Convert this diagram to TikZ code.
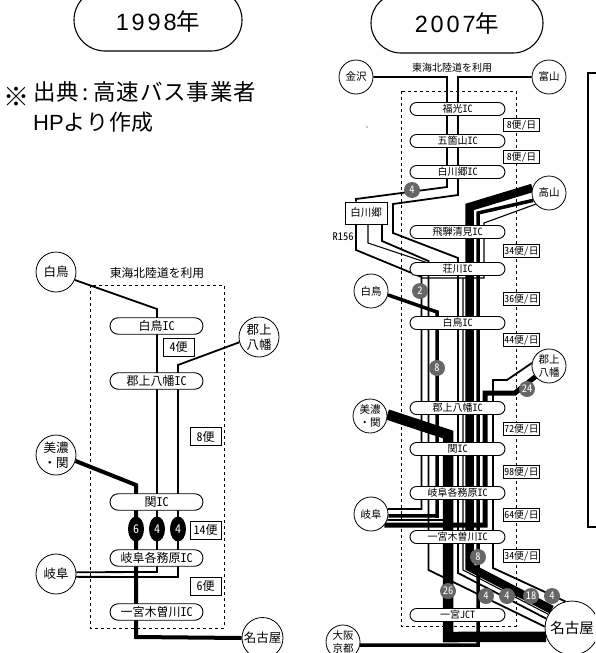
\documentclass[tikz,border=0pt]{standalone}
\usepackage{fontspec}
\setmainfont{Noto Sans CJK JP}[RawFeature=+hwid]
\newfontfamily\bigfont{Noto Sans CJK JP}
\newfontfamily\notefont[LetterSpace=4]{Noto Sans CJK JP}
\newfontfamily\digitfont[LetterSpace=12]{Liberation Sans}
\newfontfamily\hpfont{Liberation Sans}
\usetikzlibrary{shapes.misc,shapes.geometric,calc}
\pgfdeclarelayer{lines}
\pgfsetlayers{lines,main}
\definecolor{badge}{HTML}{666666}
\tikzset{
  yearpill/.style={rounded rectangle,draw,line width=1.1pt,fill=white,inner sep=0pt},
  icA/.style={rounded rectangle,draw,line width=.9pt,fill=white,inner sep=0pt,minimum width=93pt,minimum height=16.5pt,font=\fontsize{12}{12}\selectfont},
  icB/.style={rounded rectangle,draw,line width=.9pt,fill=white,inner sep=0pt,minimum width=95pt,minimum height=13pt,font=\fontsize{10}{10}\selectfont},
  cityA/.style={circle,draw,line width=.8pt,fill=white,inner sep=0pt,minimum size=40pt,align=center,font=\fontsize{12.5}{15}\selectfont},
  cityB/.style={circle,draw,line width=.8pt,fill=white,inner sep=0pt,minimum size=34pt,align=center,font=\fontsize{10.5}{13}\selectfont},
  rateA/.style={rectangle,draw,line width=.7pt,fill=white,inner sep=0pt,minimum width=31pt,minimum height=18pt,font=\fontsize{12}{12}\selectfont},
  rateB/.style={rectangle,draw,line width=.7pt,fill=white,inner sep=0pt,minimum width=36.5pt,minimum height=13pt,font=\fontsize{9.8}{9.8}\selectfont},
  oval/.style={ellipse,fill=black,text=white,inner sep=0pt,minimum width=16pt,minimum height=25pt,font=\fontsize{12}{12}\selectfont},
  dot/.style={circle,fill=badge,text=white,inner sep=0pt,minimum size=16pt,font=\fontsize{10.5}{10.5}\selectfont},
  route/.style={dash pattern=on 3pt off 3pt,line width=.8pt},
  w1/.style={line width=1.1pt},
  w2/.style={line width=1.8pt},
  w3/.style={line width=3.5pt},
  w4/.style={line width=5pt},
  w8/.style={line width=8.5pt},
  w10/.style={line width=10.5pt},
}
\begin{document}
\begin{tikzpicture}[x=1pt,y=-1pt,line join=miter]
\useasboundingbox (0,0) rectangle (595,653);
\clip (0,0) rectangle (595,653);
%
% ---------- headings
\node[yearpill,minimum width=168pt,minimum height=62pt] (y98) at (158,20) {};
\node[yearpill,minimum width=172pt,minimum height=60pt] (y07) at (457,23) {};
\node[inner sep=0pt] (y98t) at (158,22) {\fontsize{23.5}{23.5}\selectfont{\digitfont 1998}\bigfont 年};
\node[inner sep=0pt] (y07t) at (457,24) {\fontsize{23.5}{23.5}\selectfont{\digitfont 2007}\bigfont 年};
\node[inner sep=0pt,font=\fontsize{26}{26}\selectfont\bigfont] (note0) at (16,97) {※};
\node[inner sep=0pt,anchor=west,font=\fontsize{22.5}{22.5}\selectfont\notefont] (note1) at (33,92) {出典\hspace{3pt}:\hspace{5pt}高速バス事業者};
\node[inner sep=0pt,anchor=west,font=\fontsize{22}{22}\selectfont\notefont] (note2) at (33,122) {{\hpfont HP}より作成};
%
% ---------- 1998 nodes
\node[inner sep=0pt,font=\fontsize{11.8}{11.8}\selectfont] (tA) at (157,273) {東海北陸道を利用};
\node[cityA] (aShirotori) at (56,272) {白鳥};
\node[cityA] (aGujo) at (259,337) {郡上\\八幡};
\node[cityA] (aMino) at (56,455) {美濃\\・関};
\node[cityA] (aGifu) at (56,574) {岐阜};
\node[cityA,minimum size=41pt] (aNagoya) at (262.5,638) {名古屋};
\node[icA] (aic1) at (156.5,326) {白鳥IC};
\node[icA] (aic2) at (156.5,381) {郡上八幡IC};
\node[icA] (aic3) at (156.5,502) {関IC};
\node[icA] (aic4) at (156.5,558) {岐阜各務原IC};
\node[icA] (aic5) at (156.5,612) {一宮木曽川IC};
\node[rateA] (ar1) at (178.5,347) {4便};
\node[rateA] (ar2) at (205.5,436.5) {8便};
\node[rateA] (ar3) at (205.5,530) {14便};
\node[rateA] (ar4) at (205.5,586) {6便};
\node[oval] (ao1) at (136,529) {6};
\node[oval] (ao2) at (157,529) {4};
\node[oval] (ao3) at (178,529) {4};
%
% ---------- 2007 nodes
\node[inner sep=0pt,font=\fontsize{10}{10}\selectfont] (tB) at (452,68) {東海北陸道を利用};
\node[cityB] (bKanazawa) at (356,77) {金沢};
\node[cityB] (bToyama) at (549,77) {富山};
\node[cityB] (bTakayama) at (549,193) {高山};
\node[cityB] (bShirotori) at (371,291) {白鳥};
\node[cityB] (bGujo) at (549,366) {郡上\\八幡};
\node[cityB] (bMino) at (370,416) {美濃\\・関};
\node[cityB] (bGifu) at (371,514) {岐阜};
\node[cityB] (bOsaka) at (343,642) {大阪\\京都};
\node[circle,draw,line width=.8pt,fill=white,inner sep=0pt,minimum size=54pt,font=\fontsize{14.5}{14.5}\selectfont] (bNagoya) at (572,628) {名古屋};
\node[rectangle,draw,line width=.7pt,fill=white,inner sep=0pt,minimum width=42pt,minimum height=22pt,font=\fontsize{10.5}{10.5}\selectfont] (bShirakawa) at (366,213) {白川郷};
\node[inner sep=0pt,font=\fontsize{10.5}{10.5}\selectfont] (r156) at (343,237) {R156};
\node[icB] (bic1) at (457.5,109) {福光IC};
\node[icB] (bic2) at (457.5,141) {五箇山IC};
\node[icB] (bic3) at (457.5,172) {白川郷IC};
\node[icB] (bic4) at (457.5,232) {飛騨清見IC};
\node[icB] (bic5) at (457.5,269) {荘川IC};
\node[icB] (bic6) at (457.5,323) {白鳥IC};
\node[icB] (bic7) at (457.5,408) {郡上八幡IC};
\node[icB] (bic8) at (457.5,449) {関IC};
\node[icB] (bic9) at (457.5,493) {岐阜各務原IC};
\node[icB] (bic10) at (457.5,537) {一宮木曽川IC};
\node[icB] (bic11) at (457.5,615) {一宮JCT};
\node[rateB] (br1) at (521.5,125) {8便/日};
\node[rateB] (br2) at (521.5,157) {8便/日};
\node[rateB] (br3) at (521.5,251) {34便/日};
\node[rateB] (br4) at (521.5,299) {36便/日};
\node[rateB] (br5) at (521.5,340) {44便/日};
\node[rateB] (br6) at (521.5,429) {72便/日};
\node[rateB] (br7) at (521.5,472) {98便/日};
\node[rateB] (br8) at (521.5,515) {64便/日};
\node[rateB] (br9) at (521.5,556) {34便/日};
\node[dot] (d4a) at (412,190) {4};
\node[dot] (d2) at (420,291) {2};
\node[dot] (d8a) at (437,368) {8};
\node[dot] (d24) at (527,389) {24};
\node[dot] (d8b) at (478,557) {8};
\node[dot] (d26) at (448,591) {26};
\node[dot] (d4b) at (486,596) {4};
\node[dot] (d4c) at (507,596) {4};
\node[dot] (d18) at (531,596) {18};
\node[dot] (d4d) at (552,596) {4};
\fill (367,127) circle (.6pt);
%
\begin{pgfonlayer}{lines}
% 1998 connectors
\draw[route] (90,285) rectangle (224,628);
\draw[w2] (aShirotori.-23) -- (157,309) -- (157,572) -- (aGifu.5.7);
\draw[w2] (aGujo.195) -- (178,365) -- (178,577) -- (aGifu.-8.6);
\draw[line width=4pt] (aMino.-17) -- (136,485) -- (136,637) -- (aNagoya.west);
% 2007 frames
\draw[route] (401,91) rectangle (516,626);
\draw[line width=1.1pt] (600,73) -| (588,527) -- (600,527);
% from Kanazawa and Toyama
\draw[w2] (bKanazawa.east) -- (447,77) -- (447,187) -- (356,199) -- ($(bShirakawa.north)+(-10,0)$);
\draw[w2] (bToyama.west) -- (458,77) -- (458,195) -- (393,204) -- (393,233) -- (458,258) -- (458,573) -- (bNagoya.160);
% from Shirakawa-go
\draw[w2] ($(bShirakawa.south)+(-10,0)$) -- (356,250) -- (421.5,277) -- (421.5,509) -- (bGifu.17.1);
\draw[w1] ($(bShirakawa.south)+(2,0)$) -- (368,243) -- (428,263);
\draw[w2] ($(bShirakawa.south)+(16,0)$) -- (382,241) -- (428.5,261) -- (428.5,570) -- (bNagoya.177);
% from Takayama
\draw[w8] (bTakayama.163) -- (469.5,207) -- (469.5,567) -- (bNagoya.138);
\draw[w3] (bTakayama.205) -- (478,213) -- (478,645) -- (bOsaka.-10.2);
\draw[w1] (bTakayama.220) -- (484,223) -- (484,278) -- (421,278);
\draw[w1] (463,278) -- (463,570) -- (bNagoya.150);
% from Shirotori
\draw[w3] (bShirotori.-13) -- (437,312) -- (437,516) -- (bGifu.-6.75);
% from Mino-Seki
\draw[w10] (bMino.5) -- (448,434.5) -- (448,637) -- (bNagoya.199.5);
% from Gifu
\draw[w2] (bGifu.-20.7) -- (443,520);
\draw[w4] (bGifu.-40.3) -- (485,525) -- (485,393) -- (515,393) -- (bGujo.218);
% from Gujo
\draw[w2] (bGujo.170) -- (507,380) -- (493,380) -- (493,568) -- (bNagoya.104);
\end{pgfonlayer}
\end{tikzpicture}
\end{document}
